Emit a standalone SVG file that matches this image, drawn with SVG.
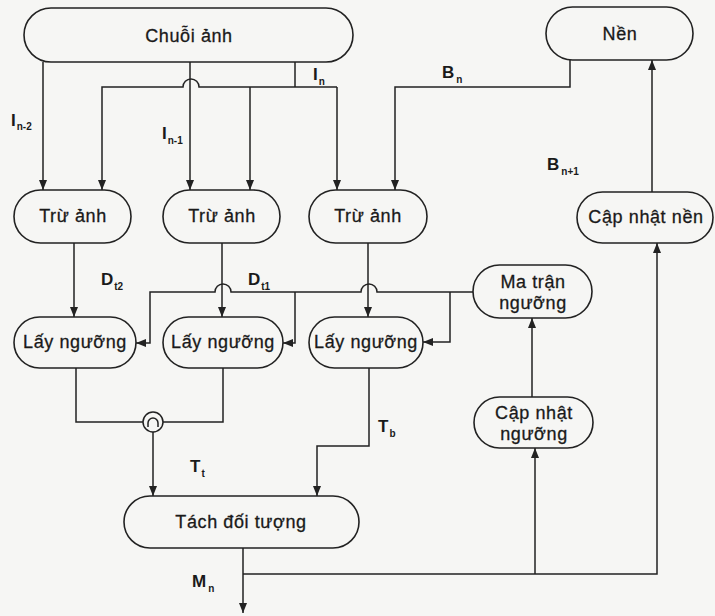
<svg xmlns="http://www.w3.org/2000/svg" width="715" height="616" viewBox="0 0 715 616">
<style>
.box{fill:none;stroke:#222;stroke-width:1.6}
.t{font-family:"Liberation Sans",Arial,sans-serif;font-size:18px;fill:#1a1a1a;stroke:#1a1a1a;stroke-width:0.3;text-anchor:middle;letter-spacing:0.6px}
.c{fill:none;stroke:#222;stroke-width:1.5}
.lb{font-family:"Liberation Sans",Arial,sans-serif;font-size:17px;font-weight:bold;fill:#1a1a1a}
.sb{font-size:10px}
</style>
<defs>
<marker id="ah" markerWidth="10" markerHeight="10" viewBox="0 0 10 10" refX="10" refY="5" orient="auto" markerUnits="userSpaceOnUse">
<path d="M0,1 L10,5 L0,9 Z" fill="#222"/>
</marker>
</defs>
<rect width="715" height="616" fill="#f6f6f4"/>
<g id="connectors" class="c">
<path d="M43,62 V190" marker-end="url(#ah)"/>
<path d="M190,62 V190" marker-end="url(#ah)"/>
<path d="M295,62 V87"/>
<path d="M337,87 H199 A8,8 0 0 0 183,87 H102 V190" marker-end="url(#ah)"/>
<path d="M250,87 V190" marker-end="url(#ah)"/>
<path d="M337,87 V190" marker-end="url(#ah)"/>
<path d="M570,60 V87 H395 V190" marker-end="url(#ah)"/>
<path d="M652,192 V60" marker-end="url(#ah)"/>
<path d="M74,243 V317" marker-end="url(#ah)"/>
<path d="M222,243 V317" marker-end="url(#ah)"/>
<path d="M368,243 V317" marker-end="url(#ah)"/>
<path d="M473,292 H377 A8,8 0 0 0 361,292 H231 A8,8 0 0 0 215,292 H150 V343 H136" marker-end="url(#ah)"/>
<path d="M295,292 V343 H283" marker-end="url(#ah)"/>
<path d="M450,292 V342 H423" marker-end="url(#ah)"/>
<path d="M76,368 V422 H143"/>
<path d="M223,368 V422 H163"/>
<circle cx="153" cy="422" r="10"/>
<path d="M148,427 V423 A5,5 0 0 1 158,423 V427"/>
<path d="M153,432 V496" marker-end="url(#ah)"/>
<path d="M369,368 V446 H317 V496" marker-end="url(#ah)"/>
<path d="M243,548 V613" marker-end="url(#ah)"/>
<path d="M243,574 H657 V243" marker-end="url(#ah)"/>
<path d="M535,574 V448" marker-end="url(#ah)"/>
<path d="M532,397 V318" marker-end="url(#ah)"/>
</g>
<g id="chuoi-anh"><rect class="box" x="24" y="8" width="329" height="54" rx="27"/><text class="t" x="189" y="42">Chuỗi ảnh</text></g>
<g id="nen"><rect class="box" x="546" y="7" width="147" height="53" rx="26.5"/><text class="t" x="620" y="40">Nền</text></g>
<g id="tru-anh-1"><rect class="box" x="14" y="190" width="117" height="53" rx="26.5"/><text class="t" x="73" y="222">Trừ ảnh</text></g>
<g id="tru-anh-2"><rect class="box" x="163" y="190" width="117" height="53" rx="26.5"/><text class="t" x="222" y="222">Trừ ảnh</text></g>
<g id="tru-anh-3"><rect class="box" x="309" y="190" width="118" height="53" rx="26.5"/><text class="t" x="368" y="222">Trừ ảnh</text></g>
<g id="cap-nhat-nen"><rect class="box" x="577" y="192" width="136" height="51" rx="25.5"/><text class="t" x="646" y="223">Cập nhật nền</text></g>
<g id="ma-tran-nguong"><rect class="box" x="473" y="265" width="119" height="53" rx="26.5"/><text class="t" x="533" y="288">Ma trận</text><text class="t" x="533" y="309">ngưỡng</text></g>
<g id="lay-nguong-1"><rect class="box" x="14" y="317" width="122" height="51" rx="25.5"/><text class="t" x="75" y="348">Lấy ngưỡng</text></g>
<g id="lay-nguong-2"><rect class="box" x="163" y="317" width="120" height="51" rx="25.5"/><text class="t" x="223" y="348">Lấy ngưỡng</text></g>
<g id="lay-nguong-3"><rect class="box" x="309" y="317" width="114" height="51" rx="25.5"/><text class="t" x="366" y="348">Lấy ngưỡng</text></g>
<g id="cap-nhat-nguong"><rect class="box" x="474" y="397" width="119" height="51" rx="25.5"/><text class="t" x="534" y="419">Cập nhật</text><text class="t" x="534" y="440">ngưỡng</text></g>
<g id="tach-doi-tuong"><rect class="box" x="124" y="496" width="235" height="52" rx="26"/><text class="t" x="241" y="528">Tách đối tượng</text></g>
<g id="labels">
<text class="lb" x="11" y="126">I<tspan class="sb" dx="1" dy="4">n-2</tspan></text>
<text class="lb" x="162" y="139">I<tspan class="sb" dx="1" dy="5">n-1</tspan></text>
<text class="lb" x="313" y="80">I<tspan class="sb" dx="1" dy="5">n</tspan></text>
<text class="lb" x="442" y="78">B<tspan class="sb" dx="2" dy="5">n</tspan></text>
<text class="lb" x="547" y="170">B<tspan class="sb" dx="2" dy="5">n+1</tspan></text>
<text class="lb" x="101" y="285">D<tspan class="sb" dx="1" dy="5">t2</tspan></text>
<text class="lb" x="248" y="285">D<tspan class="sb" dx="1" dy="5">t1</tspan></text>
<text class="lb" x="190" y="472">T<tspan class="sb" dx="1" dy="5">t</tspan></text>
<text class="lb" x="378" y="432">T<tspan class="sb" dx="1" dy="5">b</tspan></text>
<text class="lb" x="192" y="587">M<tspan class="sb" dx="2" dy="5">n</tspan></text>
</g>
</svg>
